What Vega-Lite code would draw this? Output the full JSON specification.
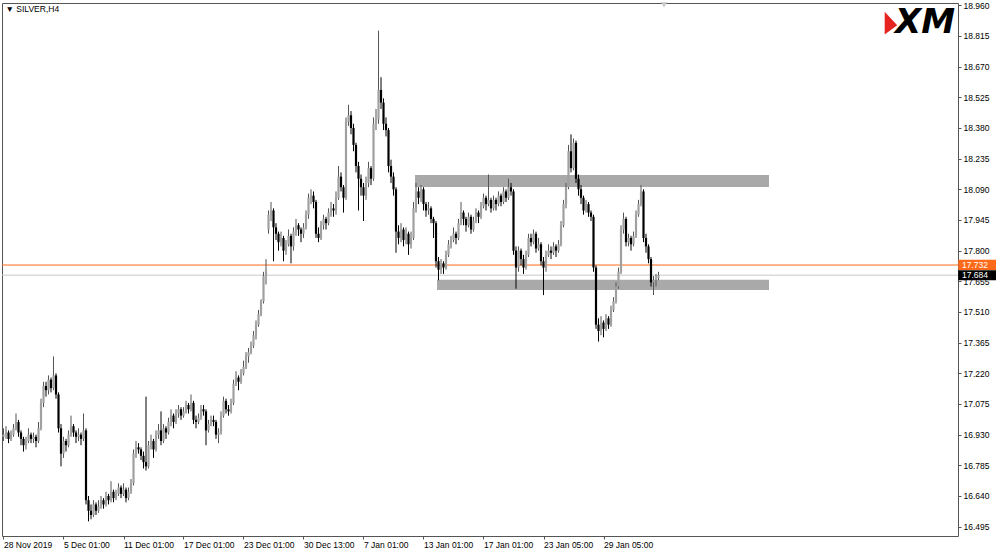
{
"$schema": "https://vega.github.io/schema/vega-lite/v6.json",
"width": 956, "height": 533,
"padding": {"left": 1, "top": 1, "right": 0, "bottom": 0},
"background": "white",
"config": {"view": {"stroke": "#555555", "strokeWidth": 1}, "font": "Liberation Sans", "axis": {"labelOverlap": false, "labelBound": false, "labelFlush": false}},
"datasets": {
"one": [{}],
"candles": [
{"i":0,"o":16.92,"h":16.96,"l":16.90,"c":16.93},{"i":1,"o":16.93,"h":16.97,"l":16.91,"c":16.94},{"i":2,"o":16.94,"h":16.95,"l":16.89,"c":16.91},{"i":3,"o":16.91,"h":16.95,"l":16.90,"c":16.93},{"i":4,"o":16.93,"h":16.98,"l":16.92,"c":16.96},{"i":5,"o":16.96,"h":17.03,"l":16.95,"c":16.99},{"i":6,"o":16.99,"h":17.00,"l":16.92,"c":16.94},{"i":7,"o":16.94,"h":16.95,"l":16.88,"c":16.91},{"i":8,"o":16.91,"h":16.92,"l":16.85,"c":16.88},{"i":9,"o":16.88,"h":16.92,"l":16.86,"c":16.90},
{"i":10,"o":16.90,"h":16.96,"l":16.89,"c":16.93},{"i":11,"o":16.93,"h":16.94,"l":16.89,"c":16.91},{"i":12,"o":16.91,"h":16.94,"l":16.89,"c":16.92},{"i":13,"o":16.92,"h":16.93,"l":16.87,"c":16.90},{"i":14,"o":16.90,"h":16.99,"l":16.89,"c":16.96},{"i":15,"o":16.96,"h":17.10,"l":16.95,"c":17.08},{"i":16,"o":17.08,"h":17.18,"l":17.06,"c":17.16},{"i":17,"o":17.16,"h":17.18,"l":17.11,"c":17.14},{"i":18,"o":17.14,"h":17.21,"l":17.12,"c":17.19},{"i":19,"o":17.19,"h":17.20,"l":17.13,"c":17.15},
{"i":20,"o":17.15,"h":17.30,"l":17.14,"c":17.21},{"i":21,"o":17.21,"h":17.22,"l":17.10,"c":17.12},{"i":22,"o":17.12,"h":17.13,"l":16.94,"c":16.96},{"i":23,"o":16.96,"h":16.98,"l":16.78,"c":16.84},{"i":24,"o":16.84,"h":16.92,"l":16.82,"c":16.90},{"i":25,"o":16.90,"h":16.91,"l":16.85,"c":16.88},{"i":26,"o":16.88,"h":16.95,"l":16.87,"c":16.93},{"i":27,"o":16.93,"h":17.02,"l":16.92,"c":16.97},{"i":28,"o":16.97,"h":16.98,"l":16.92,"c":16.94},{"i":29,"o":16.94,"h":16.95,"l":16.89,"c":16.92},
{"i":30,"o":16.92,"h":16.96,"l":16.90,"c":16.93},{"i":31,"o":16.93,"h":16.94,"l":16.88,"c":16.91},{"i":32,"o":16.91,"h":17.03,"l":16.90,"c":16.95},{"i":33,"o":16.95,"h":16.96,"l":16.60,"c":16.62},{"i":34,"o":16.62,"h":16.64,"l":16.52,"c":16.57},{"i":35,"o":16.57,"h":16.60,"l":16.53,"c":16.55},{"i":36,"o":16.55,"h":16.62,"l":16.54,"c":16.60},{"i":37,"o":16.60,"h":16.61,"l":16.55,"c":16.57},{"i":38,"o":16.57,"h":16.62,"l":16.56,"c":16.59},{"i":39,"o":16.59,"h":16.64,"l":16.58,"c":16.62},
{"i":40,"o":16.62,"h":16.63,"l":16.58,"c":16.60},{"i":41,"o":16.60,"h":16.66,"l":16.59,"c":16.64},{"i":42,"o":16.64,"h":16.65,"l":16.60,"c":16.62},{"i":43,"o":16.62,"h":16.71,"l":16.61,"c":16.66},{"i":44,"o":16.66,"h":16.67,"l":16.61,"c":16.63},{"i":45,"o":16.63,"h":16.67,"l":16.62,"c":16.65},{"i":46,"o":16.65,"h":16.70,"l":16.64,"c":16.68},{"i":47,"o":16.68,"h":16.69,"l":16.63,"c":16.65},{"i":48,"o":16.65,"h":16.70,"l":16.64,"c":16.67},{"i":49,"o":16.67,"h":16.68,"l":16.61,"c":16.63},
{"i":50,"o":16.63,"h":16.68,"l":16.62,"c":16.66},{"i":51,"o":16.66,"h":16.72,"l":16.65,"c":16.70},{"i":52,"o":16.70,"h":16.86,"l":16.69,"c":16.84},{"i":53,"o":16.84,"h":16.90,"l":16.82,"c":16.87},{"i":54,"o":16.87,"h":16.89,"l":16.84,"c":16.86},{"i":55,"o":16.86,"h":16.87,"l":16.81,"c":16.83},{"i":56,"o":16.83,"h":16.85,"l":16.77,"c":16.80},{"i":57,"o":16.80,"h":17.11,"l":16.76,"c":16.78},{"i":58,"o":16.78,"h":16.90,"l":16.77,"c":16.88},{"i":59,"o":16.88,"h":16.93,"l":16.86,"c":16.90},
{"i":60,"o":16.90,"h":16.91,"l":16.82,"c":16.86},{"i":61,"o":16.86,"h":16.95,"l":16.85,"c":16.93},{"i":62,"o":16.93,"h":16.98,"l":16.91,"c":16.95},{"i":63,"o":16.95,"h":17.04,"l":16.88,"c":16.90},{"i":64,"o":16.90,"h":16.98,"l":16.89,"c":16.96},{"i":65,"o":16.96,"h":16.97,"l":16.91,"c":16.94},{"i":66,"o":16.94,"h":17.01,"l":16.93,"c":16.99},{"i":67,"o":16.99,"h":17.05,"l":16.97,"c":17.02},{"i":68,"o":17.02,"h":17.03,"l":16.96,"c":16.99},{"i":69,"o":16.99,"h":17.05,"l":16.98,"c":17.03},
{"i":70,"o":17.03,"h":17.07,"l":17.01,"c":17.05},{"i":71,"o":17.05,"h":17.06,"l":17.00,"c":17.02},{"i":72,"o":17.02,"h":17.06,"l":17.01,"c":17.04},{"i":73,"o":17.04,"h":17.09,"l":17.03,"c":17.07},{"i":74,"o":17.07,"h":17.08,"l":17.03,"c":17.05},{"i":75,"o":17.05,"h":17.12,"l":17.04,"c":17.08},{"i":76,"o":17.08,"h":17.09,"l":16.98,"c":17.00},{"i":77,"o":17.00,"h":17.02,"l":16.96,"c":16.99},{"i":78,"o":16.99,"h":17.03,"l":16.98,"c":17.01},{"i":79,"o":17.01,"h":17.07,"l":17.00,"c":17.05},
{"i":80,"o":17.05,"h":17.07,"l":17.02,"c":17.04},{"i":81,"o":17.04,"h":17.05,"l":16.88,"c":16.95},{"i":82,"o":16.95,"h":17.00,"l":16.94,"c":16.98},{"i":83,"o":16.98,"h":17.02,"l":16.97,"c":17.00},{"i":84,"o":17.00,"h":17.02,"l":16.97,"c":16.99},{"i":85,"o":16.99,"h":17.00,"l":16.91,"c":16.93},{"i":86,"o":16.93,"h":16.96,"l":16.89,"c":16.94},{"i":87,"o":16.94,"h":17.04,"l":16.93,"c":17.02},{"i":88,"o":17.02,"h":17.11,"l":17.01,"c":17.09},{"i":89,"o":17.09,"h":17.10,"l":17.03,"c":17.05},
{"i":90,"o":17.05,"h":17.07,"l":17.02,"c":17.04},{"i":91,"o":17.04,"h":17.10,"l":17.03,"c":17.08},{"i":92,"o":17.08,"h":17.19,"l":17.07,"c":17.17},{"i":93,"o":17.17,"h":17.23,"l":17.16,"c":17.20},{"i":94,"o":17.20,"h":17.21,"l":17.14,"c":17.18},{"i":95,"o":17.18,"h":17.24,"l":17.17,"c":17.22},{"i":96,"o":17.22,"h":17.28,"l":17.21,"c":17.25},{"i":97,"o":17.25,"h":17.32,"l":17.24,"c":17.30},{"i":98,"o":17.30,"h":17.34,"l":17.27,"c":17.32},{"i":99,"o":17.32,"h":17.37,"l":17.31,"c":17.35},
{"i":100,"o":17.35,"h":17.42,"l":17.34,"c":17.40},{"i":101,"o":17.40,"h":17.47,"l":17.38,"c":17.45},{"i":102,"o":17.45,"h":17.52,"l":17.44,"c":17.50},{"i":103,"o":17.50,"h":17.57,"l":17.49,"c":17.56},{"i":104,"o":17.56,"h":17.70,"l":17.55,"c":17.68},{"i":105,"o":17.68,"h":17.76,"l":17.64,"c":17.71},{"i":106,"o":17.90,"h":17.99,"l":17.88,"c":17.97},{"i":107,"o":17.97,"h":18.03,"l":17.94,"c":17.99},{"i":108,"o":17.99,"h":18.00,"l":17.75,"c":17.91},{"i":109,"o":17.91,"h":17.93,"l":17.85,"c":17.88},
{"i":110,"o":17.88,"h":17.89,"l":17.80,"c":17.84},{"i":111,"o":17.84,"h":17.89,"l":17.82,"c":17.86},{"i":112,"o":17.86,"h":17.87,"l":17.75,"c":17.80},{"i":113,"o":17.80,"h":17.85,"l":17.78,"c":17.83},{"i":114,"o":17.83,"h":17.90,"l":17.82,"c":17.87},{"i":115,"o":17.87,"h":17.88,"l":17.74,"c":17.82},{"i":116,"o":17.82,"h":17.91,"l":17.80,"c":17.89},{"i":117,"o":17.89,"h":17.95,"l":17.87,"c":17.92},{"i":118,"o":17.92,"h":17.93,"l":17.87,"c":17.90},{"i":119,"o":17.90,"h":17.91,"l":17.84,"c":17.88},
{"i":120,"o":17.88,"h":17.93,"l":17.86,"c":17.91},{"i":121,"o":17.91,"h":17.99,"l":17.90,"c":17.97},{"i":122,"o":17.97,"h":18.07,"l":17.95,"c":18.05},{"i":123,"o":18.05,"h":18.09,"l":18.02,"c":18.06},{"i":124,"o":18.06,"h":18.08,"l":18.00,"c":18.03},{"i":125,"o":18.03,"h":18.04,"l":17.86,"c":17.88},{"i":126,"o":17.88,"h":17.91,"l":17.84,"c":17.86},{"i":127,"o":17.86,"h":17.94,"l":17.85,"c":17.92},{"i":128,"o":17.92,"h":17.97,"l":17.90,"c":17.95},{"i":129,"o":17.95,"h":17.96,"l":17.90,"c":17.93},
{"i":130,"o":17.93,"h":18.00,"l":17.92,"c":17.98},{"i":131,"o":17.98,"h":18.03,"l":17.96,"c":18.00},{"i":132,"o":18.00,"h":18.02,"l":17.96,"c":17.99},{"i":133,"o":17.99,"h":18.08,"l":17.97,"c":18.05},{"i":134,"o":18.05,"h":18.20,"l":18.04,"c":18.15},{"i":135,"o":18.15,"h":18.17,"l":18.08,"c":18.10},{"i":136,"o":18.10,"h":18.11,"l":17.98,"c":18.05},{"i":137,"o":18.05,"h":18.43,"l":18.04,"c":18.41},{"i":138,"o":18.41,"h":18.49,"l":18.39,"c":18.44},{"i":139,"o":18.44,"h":18.46,"l":18.35,"c":18.38},
{"i":140,"o":18.38,"h":18.40,"l":18.27,"c":18.30},{"i":141,"o":18.30,"h":18.31,"l":18.17,"c":18.20},{"i":142,"o":18.20,"h":18.22,"l":17.99,"c":18.14},{"i":143,"o":18.14,"h":18.16,"l":18.06,"c":18.10},{"i":144,"o":18.10,"h":18.12,"l":17.94,"c":18.06},{"i":145,"o":18.06,"h":18.15,"l":18.04,"c":18.12},{"i":146,"o":18.12,"h":18.22,"l":18.10,"c":18.19},{"i":147,"o":18.19,"h":18.20,"l":18.11,"c":18.14},{"i":148,"o":18.14,"h":18.43,"l":18.13,"c":18.40},{"i":149,"o":18.40,"h":18.47,"l":18.37,"c":18.42},
{"i":150,"o":18.42,"h":18.84,"l":18.40,"c":18.56},{"i":151,"o":18.56,"h":18.62,"l":18.47,"c":18.50},{"i":152,"o":18.50,"h":18.52,"l":18.37,"c":18.40},{"i":153,"o":18.40,"h":18.43,"l":18.34,"c":18.37},{"i":154,"o":18.37,"h":18.38,"l":18.17,"c":18.20},{"i":155,"o":18.20,"h":18.23,"l":18.12,"c":18.15},{"i":156,"o":18.15,"h":18.17,"l":18.06,"c":18.09},{"i":157,"o":18.09,"h":18.10,"l":17.79,"c":17.89},{"i":158,"o":17.89,"h":17.92,"l":17.83,"c":17.86},{"i":159,"o":17.86,"h":17.93,"l":17.84,"c":17.90},
{"i":160,"o":17.90,"h":17.91,"l":17.82,"c":17.85},{"i":161,"o":17.85,"h":17.91,"l":17.83,"c":17.88},{"i":162,"o":17.88,"h":17.89,"l":17.78,"c":17.83},{"i":163,"o":17.83,"h":17.89,"l":17.81,"c":17.86},{"i":164,"o":17.86,"h":18.03,"l":17.85,"c":18.00},{"i":165,"o":18.00,"h":18.12,"l":17.98,"c":18.08},{"i":166,"o":18.08,"h":18.10,"l":18.02,"c":18.05},{"i":167,"o":18.05,"h":18.11,"l":18.03,"c":18.09},{"i":168,"o":18.09,"h":18.10,"l":17.99,"c":18.02},{"i":169,"o":18.02,"h":18.03,"l":17.96,"c":17.99},
{"i":170,"o":17.99,"h":18.03,"l":17.97,"c":18.00},{"i":171,"o":18.00,"h":18.01,"l":17.93,"c":17.95},{"i":172,"o":17.95,"h":17.96,"l":17.86,"c":17.93},{"i":173,"o":17.93,"h":17.94,"l":17.72,"c":17.75},{"i":174,"o":17.75,"h":17.77,"l":17.66,"c":17.71},{"i":175,"o":17.71,"h":17.76,"l":17.69,"c":17.74},{"i":176,"o":17.74,"h":17.75,"l":17.69,"c":17.72},{"i":177,"o":17.72,"h":17.80,"l":17.71,"c":17.78},{"i":178,"o":17.78,"h":17.85,"l":17.77,"c":17.83},{"i":179,"o":17.83,"h":17.87,"l":17.81,"c":17.85},
{"i":180,"o":17.85,"h":17.91,"l":17.84,"c":17.88},{"i":181,"o":17.88,"h":17.89,"l":17.83,"c":17.86},{"i":182,"o":17.86,"h":17.95,"l":17.85,"c":17.93},{"i":183,"o":17.93,"h":18.03,"l":17.92,"c":17.98},{"i":184,"o":17.98,"h":17.99,"l":17.92,"c":17.95},{"i":185,"o":17.95,"h":17.96,"l":17.89,"c":17.92},{"i":186,"o":17.92,"h":17.98,"l":17.91,"c":17.96},{"i":187,"o":17.96,"h":17.97,"l":17.88,"c":17.90},{"i":188,"o":17.90,"h":17.96,"l":17.89,"c":17.94},{"i":189,"o":17.94,"h":18.00,"l":17.93,"c":17.98},
{"i":190,"o":17.98,"h":17.99,"l":17.93,"c":17.96},{"i":191,"o":17.96,"h":18.03,"l":17.95,"c":18.01},{"i":192,"o":18.01,"h":18.07,"l":18.00,"c":18.05},{"i":193,"o":18.05,"h":18.06,"l":17.99,"c":18.02},{"i":194,"o":18.02,"h":18.16,"l":18.01,"c":18.04},{"i":195,"o":18.04,"h":18.05,"l":17.98,"c":18.00},{"i":196,"o":18.00,"h":18.06,"l":17.99,"c":18.04},{"i":197,"o":18.04,"h":18.05,"l":17.99,"c":18.02},{"i":198,"o":18.02,"h":18.08,"l":18.01,"c":18.06},{"i":199,"o":18.06,"h":18.07,"l":18.01,"c":18.03},
{"i":200,"o":18.03,"h":18.10,"l":18.02,"c":18.08},{"i":201,"o":18.08,"h":18.09,"l":18.03,"c":18.05},{"i":202,"o":18.05,"h":18.14,"l":18.04,"c":18.10},{"i":203,"o":18.10,"h":18.12,"l":18.06,"c":18.08},{"i":204,"o":18.08,"h":18.09,"l":17.78,"c":17.80},{"i":205,"o":17.80,"h":17.82,"l":17.62,"c":17.72},{"i":206,"o":17.72,"h":17.82,"l":17.70,"c":17.80},{"i":207,"o":17.80,"h":17.81,"l":17.73,"c":17.76},{"i":208,"o":17.76,"h":17.78,"l":17.69,"c":17.72},{"i":209,"o":17.72,"h":17.80,"l":17.71,"c":17.78},
{"i":210,"o":17.78,"h":17.88,"l":17.77,"c":17.86},{"i":211,"o":17.86,"h":17.88,"l":17.82,"c":17.84},{"i":212,"o":17.84,"h":17.90,"l":17.83,"c":17.88},{"i":213,"o":17.88,"h":17.89,"l":17.79,"c":17.81},{"i":214,"o":17.81,"h":17.86,"l":17.80,"c":17.83},{"i":215,"o":17.83,"h":17.84,"l":17.73,"c":17.75},{"i":216,"o":17.75,"h":17.77,"l":17.59,"c":17.72},{"i":217,"o":17.72,"h":17.80,"l":17.70,"c":17.78},{"i":218,"o":17.78,"h":17.83,"l":17.77,"c":17.80},{"i":219,"o":17.80,"h":17.82,"l":17.76,"c":17.79},
{"i":220,"o":17.79,"h":17.84,"l":17.78,"c":17.82},{"i":221,"o":17.82,"h":17.83,"l":17.77,"c":17.80},{"i":222,"o":17.80,"h":17.85,"l":17.79,"c":17.83},{"i":223,"o":17.83,"h":17.94,"l":17.82,"c":17.92},{"i":224,"o":17.92,"h":18.04,"l":17.91,"c":18.02},{"i":225,"o":18.02,"h":18.12,"l":18.00,"c":18.10},{"i":226,"o":18.10,"h":18.30,"l":18.09,"c":18.27},{"i":227,"o":18.27,"h":18.35,"l":18.17,"c":18.19},{"i":228,"o":18.19,"h":18.33,"l":18.18,"c":18.31},{"i":229,"o":18.31,"h":18.32,"l":18.12,"c":18.14},
{"i":230,"o":18.14,"h":18.16,"l":18.06,"c":18.09},{"i":231,"o":18.09,"h":18.11,"l":18.02,"c":18.05},{"i":232,"o":18.05,"h":18.06,"l":17.97,"c":17.99},{"i":233,"o":17.99,"h":18.04,"l":17.98,"c":18.02},{"i":234,"o":18.02,"h":18.03,"l":17.96,"c":17.98},{"i":235,"o":17.98,"h":17.99,"l":17.94,"c":17.96},{"i":236,"o":17.96,"h":17.97,"l":17.70,"c":17.72},{"i":237,"o":17.72,"h":17.73,"l":17.43,"c":17.45},{"i":238,"o":17.45,"h":17.48,"l":17.37,"c":17.42},{"i":239,"o":17.42,"h":17.49,"l":17.40,"c":17.46},
{"i":240,"o":17.46,"h":17.47,"l":17.39,"c":17.43},{"i":241,"o":17.43,"h":17.50,"l":17.42,"c":17.48},{"i":242,"o":17.48,"h":17.49,"l":17.43,"c":17.45},{"i":243,"o":17.45,"h":17.54,"l":17.44,"c":17.52},{"i":244,"o":17.52,"h":17.58,"l":17.51,"c":17.56},{"i":245,"o":17.56,"h":17.65,"l":17.55,"c":17.63},{"i":246,"o":17.63,"h":17.72,"l":17.62,"c":17.70},{"i":247,"o":17.70,"h":17.92,"l":17.69,"c":17.90},{"i":248,"o":17.90,"h":17.98,"l":17.88,"c":17.95},{"i":249,"o":17.95,"h":17.96,"l":17.82,"c":17.84},
{"i":250,"o":17.84,"h":17.88,"l":17.82,"c":17.86},{"i":251,"o":17.86,"h":17.87,"l":17.80,"c":17.83},{"i":252,"o":17.83,"h":17.89,"l":17.82,"c":17.87},{"i":253,"o":17.87,"h":17.99,"l":17.86,"c":17.97},{"i":254,"o":17.97,"h":18.04,"l":17.96,"c":18.02},{"i":255,"o":18.02,"h":18.11,"l":18.01,"c":18.08},{"i":256,"o":18.08,"h":18.09,"l":17.84,"c":17.86},{"i":257,"o":17.86,"h":17.88,"l":17.79,"c":17.82},{"i":258,"o":17.82,"h":17.83,"l":17.74,"c":17.76},{"i":259,"o":17.76,"h":17.77,"l":17.63,"c":17.65},
{"i":260,"o":17.65,"h":17.68,"l":17.59,"c":17.66},{"i":261,"o":17.66,"h":17.69,"l":17.63,"c":17.67},{"i":262,"o":17.67,"h":17.70,"l":17.66,"c":17.684}
],
"zones": [
{"start":164.6,"end":306.2,"low":18.101,"high":18.158},
{"start":173.4,"end":306.2,"low":17.614,"high":17.662}
]
},
"layer": [
{
"data": {"name": "zones"},
"mark": {"type": "rect", "color": "#a9a9a9"},
"encoding": {
"x": {"field": "start", "type": "quantitative", "title": null, "scale": {"domain": [-0.6, 381.8], "nice": false, "zero": false, "padding": 0},
"axis": {"title": null, "grid": false, "domain": false, "values": [0,24,48,72,96,120,144,168,192,216,240], "tickCount": 30,
"labelExpr": "['28 Nov 2019','5 Dec 01:00','11 Dec 01:00','17 Dec 01:00','23 Dec 01:00','30 Dec 13:00','7 Jan 01:00','13 Jan 01:00','17 Jan 01:00','23 Jan 05:00','29 Jan 05:00'][round(datum.value/24)]",
"labelAlign": "left", "labelFontSize": 8.5, "labelColor": "#000000", "labelPadding": 1, "tickSize": 3, "tickColor": "#555555", "labelFlush": false, "labelOverlap": false, "labelBound": false}},
"x2": {"field": "end"},
"y": {"field": "low", "type": "quantitative", "title": null, "scale": {"domain": [16.4508, 18.9709], "nice": false, "zero": false, "padding": 0},
"axis": {"title": null, "orient": "right", "grid": false, "domain": false, "tickCount": 30,
"values": [16.495,16.64,16.785,16.93,17.075,17.22,17.365,17.51,17.655,17.8,17.945,18.09,18.235,18.38,18.525,18.67,18.815,18.96],
"format": ".3f", "labelFontSize": 8.5, "labelColor": "#000000", "labelPadding": 2, "tickSize": 3, "tickColor": "#555555", "labelFlush": false, "labelOverlap": false, "labelBound": false}},
"y2": {"field": "high"}
}
},
{
"data": {"name": "one"},
"mark": {"type": "rule", "strokeWidth": 1, "color": "#c8c8c8"},
"encoding": {"y": {"datum": 17.684, "type": "quantitative", "title": null}}
},
{
"data": {"name": "one"},
"mark": {"type": "rule", "strokeWidth": 1, "color": "#ff6a1a"},
"encoding": {"y": {"datum": 17.732, "type": "quantitative", "title": null}}
},
{
"data": {"name": "candles"},
"mark": {"type": "rule", "strokeWidth": 1},
"encoding": {
"x": {"field": "i", "type": "quantitative", "title": null},
"y": {"field": "l", "type": "quantitative", "title": null},
"y2": {"field": "h"},
"color": {"condition": {"test": "datum.c >= datum.o", "value": "#555555"}, "value": "#000000"}
}
},
{
"data": {"name": "candles"},
"mark": {"type": "bar", "size": 2.2},
"encoding": {
"x": {"field": "i", "type": "quantitative", "title": null},
"y": {"field": "o", "type": "quantitative", "title": null},
"y2": {"field": "c"},
"color": {"condition": {"test": "datum.c >= datum.o", "value": "#a0a0a0"}, "value": "#000000"}
}
},
{
"data": {"name": "one"},
"mark": {"type": "rect", "color": "#ff6a1a"},
"encoding": {
"x": {"datum": 381.9, "type": "quantitative", "title": null},
"x2": {"datum": 397},
"y": {"datum": 17.7565, "type": "quantitative", "title": null},
"y2": {"datum": 17.7085}
}
},
{
"data": {"name": "one"},
"mark": {"type": "rect", "color": "#000000"},
"encoding": {
"x": {"datum": 381.9, "type": "quantitative", "title": null},
"x2": {"datum": 397},
"y": {"datum": 17.7075, "type": "quantitative", "title": null},
"y2": {"datum": 17.6595}
}
},
{
"data": {"name": "one"},
"mark": {"type": "text", "color": "#ffffff", "align": "left", "baseline": "middle", "fontSize": 8.5, "text": "17.732"},
"encoding": {
"x": {"datum": 383.4, "type": "quantitative", "title": null},
"y": {"datum": 17.732, "type": "quantitative", "title": null}
}
},
{
"data": {"name": "one"},
"mark": {"type": "text", "color": "#ffffff", "align": "left", "baseline": "middle", "fontSize": 8.5, "text": "17.684"},
"encoding": {
"x": {"datum": 383.4, "type": "quantitative", "title": null},
"y": {"datum": 17.684, "type": "quantitative", "title": null}
}
},
{
"data": {"name": "one"},
"mark": {"type": "text", "color": "#000000", "align": "left", "baseline": "middle", "fontSize": 8.5, "text": "▼ SILVER,H4"},
"encoding": {
"x": {"datum": 0.8, "type": "quantitative", "title": null},
"y": {"datum": 18.943, "type": "quantitative", "title": null}
}
},
{
"data": {"name": "one"},
"mark": {"type": "point", "filled": true, "color": "#c8c8c8", "shape": "triangle-down", "size": 40, "opacity": 1},
"encoding": {
"x": {"datum": 264.2, "type": "quantitative", "title": null},
"y": {"datum": 18.962, "type": "quantitative", "title": null}
}
},
{
"data": {"name": "one"},
"mark": {"type": "point", "filled": true, "color": "#e52421", "shape": "M-0.6,-1 L0.5,0.2 L-0.6,1 Z", "size": 520, "opacity": 1},
"encoding": {
"x": {"datum": 355.2, "type": "quantitative", "title": null},
"y": {"datum": 18.876, "type": "quantitative", "title": null}
}
},
{
"data": {"name": "one"},
"mark": {"type": "text", "color": "#000000", "align": "center", "baseline": "middle", "fontSize": 34, "fontWeight": "bold", "fontStyle": "italic", "font": "DejaVu Sans", "text": "XM"},
"encoding": {
"x": {"datum": 368.6, "type": "quantitative", "title": null},
"y": {"datum": 18.876, "type": "quantitative", "title": null}
}
}
]
}
